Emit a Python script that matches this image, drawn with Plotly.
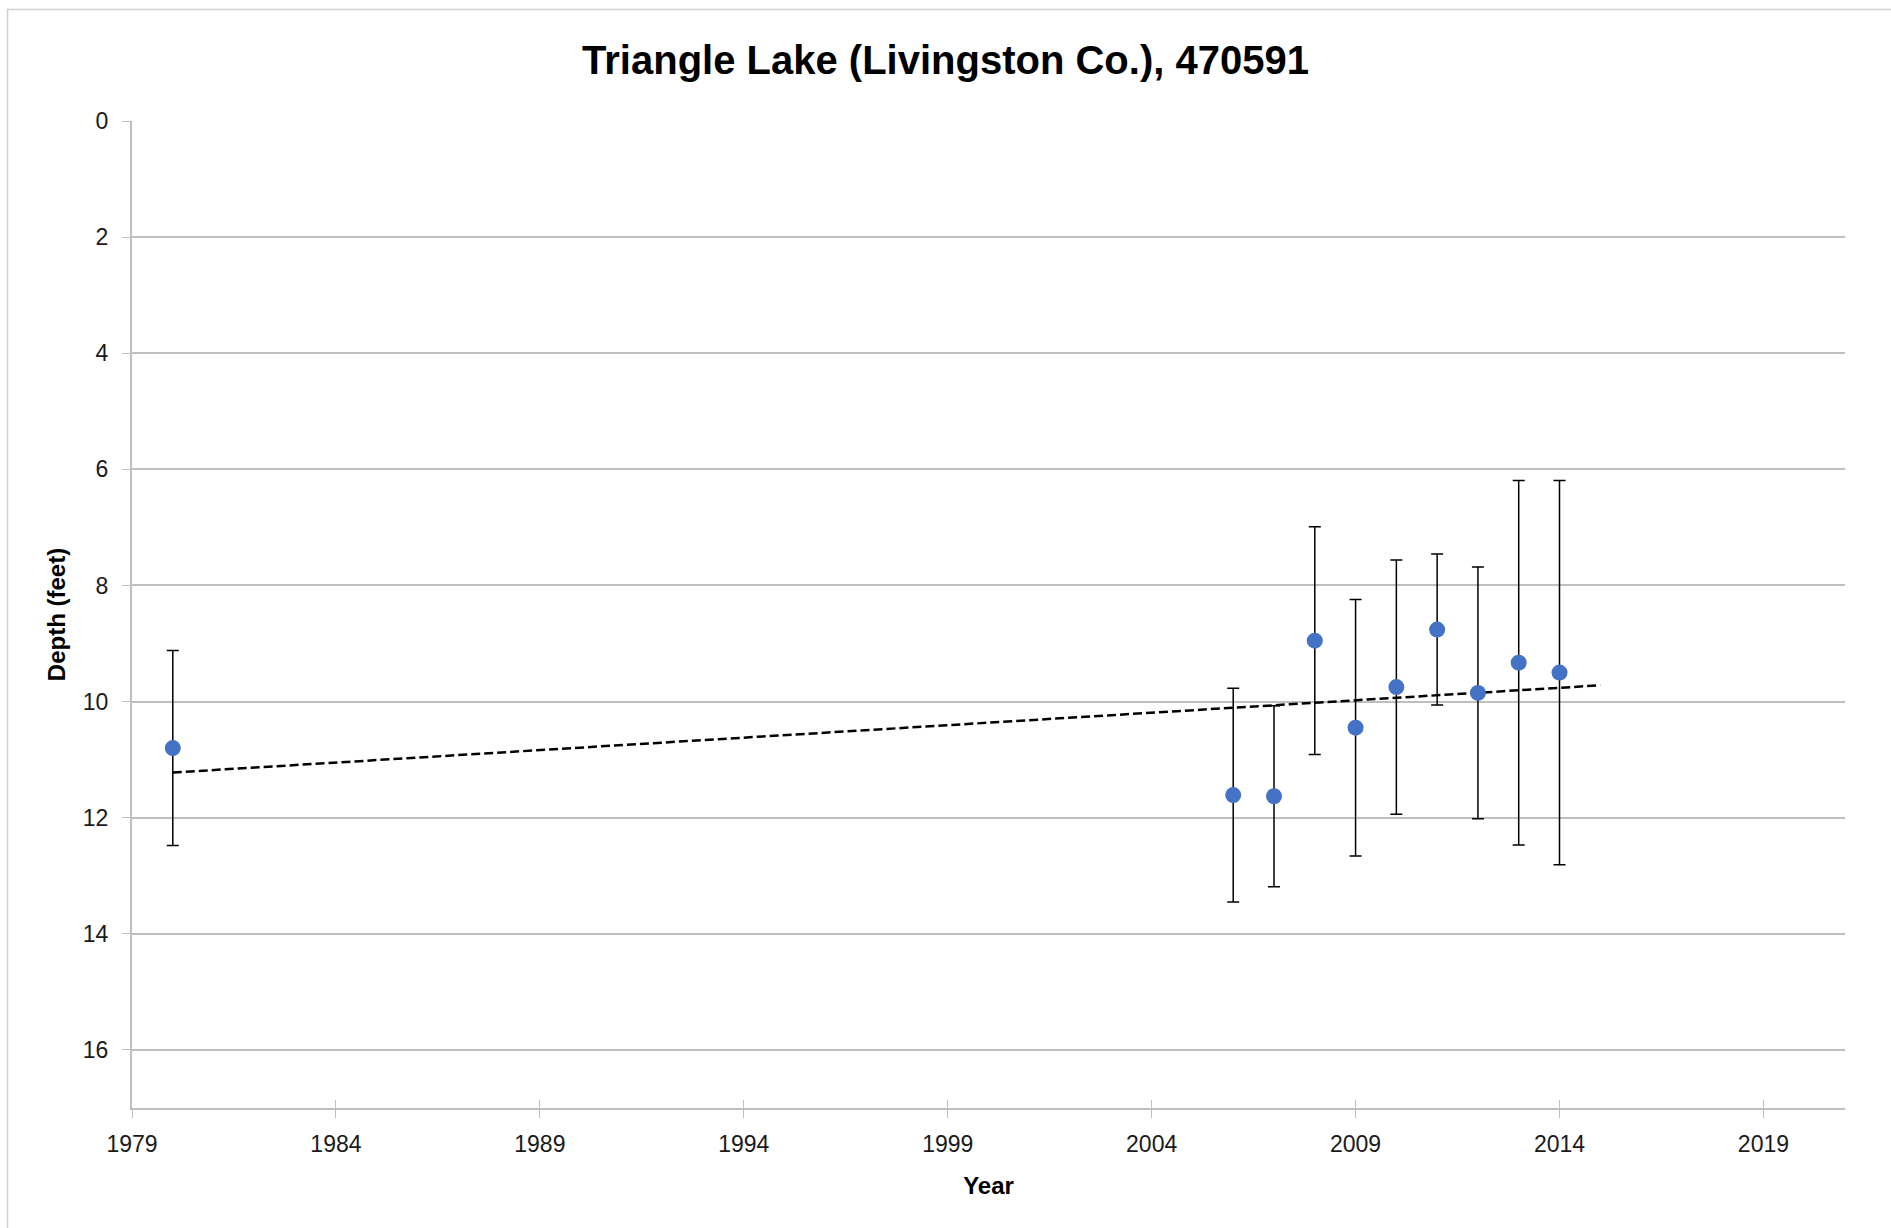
import numpy as np
import plotly.graph_objects as go

# ---- data ----
years = [1980, 2006, 2007, 2008, 2009, 2010, 2011, 2012, 2013, 2014]
depth = [10.80, 11.61, 11.63, 8.95, 10.45, 9.75, 8.76, 9.85, 9.33, 9.50]
err = [1.68, 1.84, 1.56, 1.96, 2.21, 2.19, 1.30, 2.17, 3.14, 3.31]
trend_years = [1980, 2015]

x_ticks = [1979, 1984, 1989, 1994, 1999, 2004, 2009, 2014, 2019]
y_ticks = [0, 2, 4, 6, 8, 10, 12, 14, 16]

# linear trendline (least squares, as in the spreadsheet trendline)
slope, intercept = np.polyfit(years, depth, 1)
trend_depth = [slope * t + intercept for t in trend_years]

W, H = 1891, 1228
L, R, T, B = 131.5, 46, 121, 120
pw, ph = W - L - R, H - T - B

FONT = "Liberation Sans"
GRID = "#BFBFBF"

fig = go.Figure()

fig.add_trace(go.Scatter(
    x=trend_years, y=trend_depth, mode="lines",
    line=dict(color="black", width=2.5, dash="9px,4px"),
    hoverinfo="skip", showlegend=False,
))

fig.add_trace(go.Scatter(
    x=years, y=depth, mode="markers",
    marker=dict(color="#4472C4", size=16),
    error_y=dict(type="data", array=err, visible=True,
                 color="black", thickness=1.5, width=6),
    showlegend=False,
))

# invisible trace on overlay axis to produce crossing x ticks
fig.add_trace(go.Scatter(x=[x_ticks[0]], y=[0], xaxis="x2", mode="markers",
                         marker=dict(opacity=0), hoverinfo="skip", showlegend=False))

fig.update_layout(
    width=W, height=H,
    margin=dict(l=L, r=R, t=T, b=B, pad=0),
    paper_bgcolor="white", plot_bgcolor="white",
    font=dict(family=FONT, color="#1a1a1a"),
    title=dict(text="<b>Triangle Lake (Livingston Co.), 470591</b>",
               font=dict(family=FONT, size=40, color="black"),
               x=0.5, xref="container", xanchor="center",
               y=1 - 60 / H, yref="container", yanchor="middle"),
    xaxis=dict(
        range=[1979, 2021], tickmode="array", tickvals=x_ticks,
        ticktext=[str(v) for v in x_ticks],
        showgrid=False, zeroline=False,
        showline=True, linecolor=GRID, linewidth=2,
        ticks="outside", ticklen=8, tickcolor=GRID, tickwidth=1,
        ticklabelstandoff=6,
        tickfont=dict(size=23, family=FONT, color="#1a1a1a"),
        title=dict(text="<b>Year</b>", font=dict(size=24, family=FONT, color="black"),
                   standoff=22),
    ),
    xaxis2=dict(
        range=[1979, 2021], overlaying="x", anchor="y", side="bottom",
        tickmode="array", tickvals=x_ticks, showticklabels=False,
        showgrid=False, zeroline=False, showline=False,
        ticks="inside", ticklen=8, tickcolor=GRID, tickwidth=1,
    ),
    yaxis=dict(
        range=[17, 0], tickmode="array", tickvals=y_ticks,
        ticktext=[str(v) for v in y_ticks],
        showgrid=True, gridcolor=GRID, gridwidth=2, zeroline=False,
        showline=True, linecolor=GRID, linewidth=2,
        ticks="outside", ticklen=8, tickcolor=GRID, tickwidth=1,
        ticklabelstandoff=9,
        tickfont=dict(size=23, family=FONT, color="#1a1a1a"),
        title=dict(text="<b>Depth (feet)</b>", font=dict(size=24, family=FONT, color="black"),
                   standoff=10),
    ),
    shapes=[dict(type="rect", xref="paper", yref="paper",
                 x0=(7 - L) / pw, x1=(W + 20 - L) / pw,
                 y0=-(B + 20) / ph, y1=1 + (T - 9.5) / ph,
                 line=dict(color="#D0D0D0", width=1.5), layer="below")],
)

fig.write_html("out.html",
               config={"displayModeBar": False},
               post_script="document.body.style.margin='0';document.body.style.overflow='hidden';")
